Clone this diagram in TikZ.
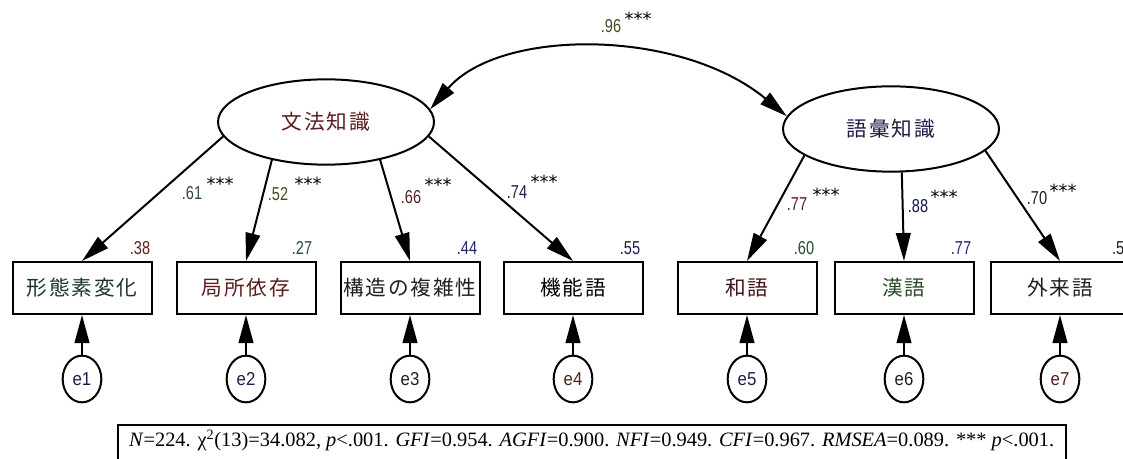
\documentclass[tikz,border=0pt]{standalone}
\usepackage{fontspec}
\setmainfont{Liberation Serif}
\newfontfamily\jpfont[LetterSpace=9]{Noto Sans CJK JP}
\newfontfamily\numfont[FakeStretch=0.78]{Liberation Sans}
\newfontfamily\errfont[FakeStretch=0.9]{Liberation Sans}
\newfontfamily\starfont{DejaVu Sans}
\usetikzlibrary{arrows.meta,shapes.geometric}

\definecolor{cRed}{HTML}{5A1E1E}
\definecolor{cNavy}{HTML}{1E1E4A}
\definecolor{cTeal}{HTML}{2A4A40}
\definecolor{cOlive}{HTML}{4A4A20}
\definecolor{cGreen}{HTML}{2A4A2A}
\definecolor{cBlue}{HTML}{20286A}
\definecolor{cDark}{HTML}{202020}

\begin{document}
\begin{tikzpicture}[x=0.75pt,y=-0.75pt,line width=1.5pt,
  obs/.style={draw,rectangle,minimum width=104.25pt,minimum height=39pt,
    inner sep=0pt,font=\jpfont\fontsize{15.5pt}{15.5pt}\selectfont},
  lat/.style={draw,ellipse,minimum width=162pt,minimum height=64pt,
    inner sep=0pt,font=\jpfont\fontsize{15.5pt}{15.5pt}\selectfont},
  err/.style={draw,ellipse,minimum width=29pt,minimum height=35pt,
    inner sep=0pt,font=\errfont\fontsize{14pt}{14pt}\selectfont},
  load/.style={-{Triangle[length=21pt,width=11pt]}},
  cov/.style={{Triangle[length=21pt,width=11pt]}-{Triangle[length=21pt,width=11pt]}},
  coef/.style={inner sep=0pt,font=\numfont\fontsize{14pt}{14pt}\selectfont},
  sig/.style={inner sep=0pt,text=black,font=\starfont\fontsize{13.5pt}{13.5pt}\selectfont},
  note/.style={inner sep=0pt,font=\fontsize{15.3pt}{18pt}\selectfont}]

\useasboundingbox (0,0) rectangle (1123,459);
\clip (0,0) rectangle (1123,459);
\fill[white] (0,0) rectangle (1123,459);

% latent factors
\node[lat,text=cRed]  (g1) at (326,122) {文法知識};
\node[lat,text=cNavy] (g2) at (891,129) {語彙知識};

% observed indicators
\node[obs,text=cTeal!70!black] (o1) at (82,288)   {形態素変化};
\node[obs,text=cRed]           (o2) at (246,288)  {局所依存};
\node[obs,text=cDark]          (o3) at (410,288)  {構造の複雑性};
\node[obs,text=black]          (o4) at (573,288)  {機能語};
\node[obs,text=cRed!70!black]  (o5) at (747,288)  {和語};
\node[obs,text=cGreen]         (o6) at (904,288)  {漢語};
\node[obs,text=cDark]          (o7) at (1060,288) {外来語};

% error terms
\node[err,text=cNavy] (e1) at (82,379)   {e1};
\node[err,text=cNavy] (e2) at (246,379)  {e2};
\node[err,text=cDark] (e3) at (410,379)  {e3};
\node[err,text=cRed]  (e4) at (573,379)  {e4};
\node[err,text=cNavy] (e5) at (747,379)  {e5};
\node[err,text=cDark] (e6) at (904,379)  {e6};
\node[err,text=cRed]  (e7) at (1060,379) {e7};

% factor loadings
\draw[load] (g1.188) -- (o1.north);
\draw[load] (g1.215) -- (o2.north);
\draw[load] (g1.325) -- (o3.north);
\draw[load] (g1.352) -- (o4.north);
\draw[load] (g2.197) -- (o5.north);
\draw[load] (g2.284) -- (o6.north);
\draw[load] (g2.347) -- (o7.north);

% error paths
\foreach \i in {1,...,7} \draw[load] (e\i) -- (o\i.south);

% factor correlation
\draw[cov] (g1.7) .. controls (500,28) and (680,28) .. (g2.173);

% standardized coefficients
\node[coef,text=cTeal]  (c1) at (192,193) {.61};
\node[sig]              (s1) at (220,184) {***};
\node[coef,text=cOlive] (c2) at (278,194) {.52};
\node[sig]              (s2) at (308,184) {***};
\node[coef,text=cRed]   (c3) at (411,197) {.66};
\node[sig]              (s3) at (438,185) {***};
\node[coef,text=cNavy]  (c4) at (517,192) {.74};
\node[sig]              (s4) at (544,182) {***};
\node[coef,text=cRed]   (c5) at (797,204) {.77};
\node[sig]              (s5) at (826,195) {***};
\node[coef,text=cBlue!60!black] (c6) at (918,206) {.88};
\node[sig]              (s6) at (944,197) {***};
\node[coef,text=cDark]  (c7) at (1037,198) {.70};
\node[sig]              (s7) at (1063,191) {***};
\node[coef,text=cOlive] (c0) at (611,26) {.96};
\node[sig]              (s0) at (638,19) {***};

% squared multiple correlations
\node[coef,text=cRed]   (r1) at (140,248)  {.38};
\node[coef,text=cTeal]  (r2) at (302,248)  {.27};
\node[coef,text=cBlue]  (r3) at (467,248)  {.44};
\node[coef,text=cNavy]  (r4) at (630,248)  {.55};
\node[coef,text=cGreen] (r5) at (804,248)  {.60};
\node[coef,text=cBlue]  (r6) at (961,248)  {.77};
\node[coef,text=cDark,anchor=west] (r7) at (1111,248) {.5};

% fit indices
\draw[line width=1pt] (118,470) -- (118,425) -- (1066,425) -- (1066,470);
\node[note,anchor=base west] (fit) at (128,446)
  {\textit{N}=224. χ\textsuperscript{2}(13)=34.082, \textit{p}<.001. \textit{GFI}=0.954. \textit{AGFI}=0.900. \textit{NFI}=0.949. \textit{CFI}=0.967. \textit{RMSEA}=0.089. *** \textit{p}<.001.};
\end{tikzpicture}
\end{document}
